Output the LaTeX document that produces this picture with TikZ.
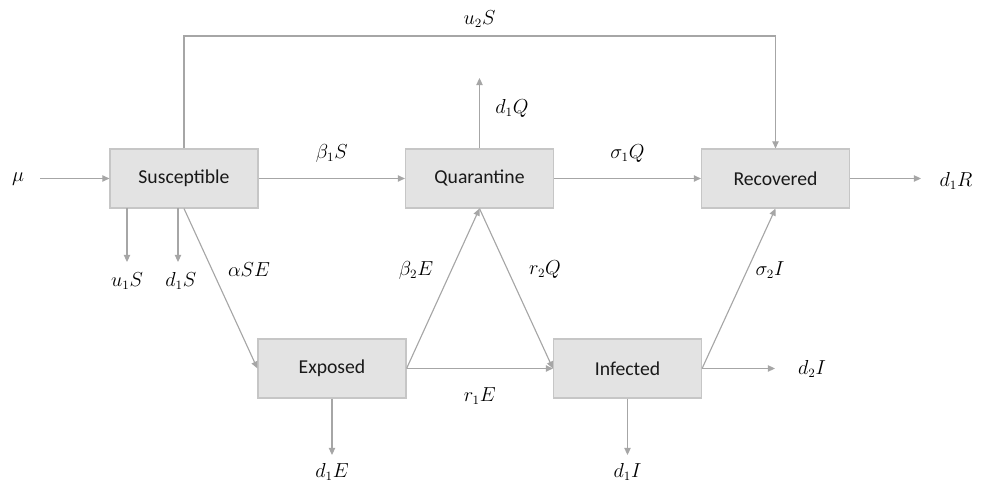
\documentclass[tikz,border=0pt]{standalone}
\usepackage{amsmath}
\usepackage[no-math]{fontspec}
\setmainfont{Carlito}
\usepackage{xcolor}
\usetikzlibrary{arrows.meta, calc}
\definecolor{boxfill}{HTML}{E3E3E3}
\definecolor{boxline}{HTML}{C6C6C6}
\definecolor{flowgray}{HTML}{A6A6A6}

\begin{document}
\begin{tikzpicture}[x=0.025cm,y=-0.025cm,
    box/.style={draw=boxline,fill=boxfill,line width=0.8pt,minimum width=3.7cm,minimum height=1.475cm,
      font=\fontsize{14}{16}\selectfont,text=black!90},
    flow/.style={-{Triangle[length=5pt,width=4.5pt]},draw=flowgray,line width=0.8pt},
    rate/.style={font=\fontsize{13.5}{16}\selectfont,text=black}]
    \useasboundingbox (0,0) rectangle (988,484);
    \node[box] (S) at (184,178.5) {Susceptible};
    \node[box] (Q) at (479.5,178.5) {Quarantine};
    \node[box] (R) at (775.5,178.5) {Recovered};
    \node[box] (E) at (332,368.5) {Exposed};
    \node[box] (I) at (627.5,368.5) {Infected};
    \coordinate (muin) at (40,178.5);
    \coordinate (top) at (479.5,36);
    \coordinate (qout) at (479.5,78);
    \coordinate (rout) at (921,178.5);
    \coordinate (u1a) at (127,208);
    \coordinate (u1b) at (127,262);
    \coordinate (d1a) at (178,208);
    \coordinate (d1b) at (178,262);
    \coordinate (eout) at (332,455);
    \coordinate (iout) at (627.5,455);
    \coordinate (iright) at (775,368.5);
    \node[rate] (mu) at (18,179) {$\mu$};
    \draw[flow] (muin) -- (S.west);
    \draw[flow] (S.east) -- node[rate,above=8pt] {$\beta_1S$} (Q.west);
    \draw[flow] (Q.east) -- node[rate,above=8pt] {$\sigma_1Q$} (R.west);
    \draw[flow] (R.east) -- (rout);
    \node[rate] at (956,181) {$d_1R$};
    \draw[flow] (S.north) |- (top) node[rate,above=2pt] {$u_2S$} -| (R.north);
    \draw[flow] (Q.north) -- (qout);
    \node[rate] at (512,108) {$d_1Q$};
    \draw[flow] (u1a) -- (u1b) node[rate,below=4pt] {$u_1S$};
    \draw[flow] (d1a) -- (d1b) node[rate,below=4pt,xshift=2pt] {$d_1S$};
    \draw[flow] (S.south) -- (E.west);
    \node[rate] at (249,270) {$\alpha SE$};
    \draw[flow] (E.east) -- (Q.south);
    \node[rate] at (416,270) {$\beta_2E$};
    \draw[flow] (Q.south) -- (I.west);
    \node[rate] at (545,270) {$r_2Q$};
    \draw[flow] (E.east) -- node[rate,below=10pt] {$r_1E$} (I.west);
    \draw[flow] (I.east) -- (R.south);
    \node[rate] at (770,270) {$\sigma_2I$};
    \draw[flow] (I.east) -- (iright);
    \node[rate] at (812,369) {$d_2I$};
    \draw[flow] (E.south) -- (eout) node[rate,below=2pt] {$d_1E$};
    \draw[flow] (I.south) -- (iout) node[rate,below=2pt] {$d_1I$};
\end{tikzpicture}
\end{document}
